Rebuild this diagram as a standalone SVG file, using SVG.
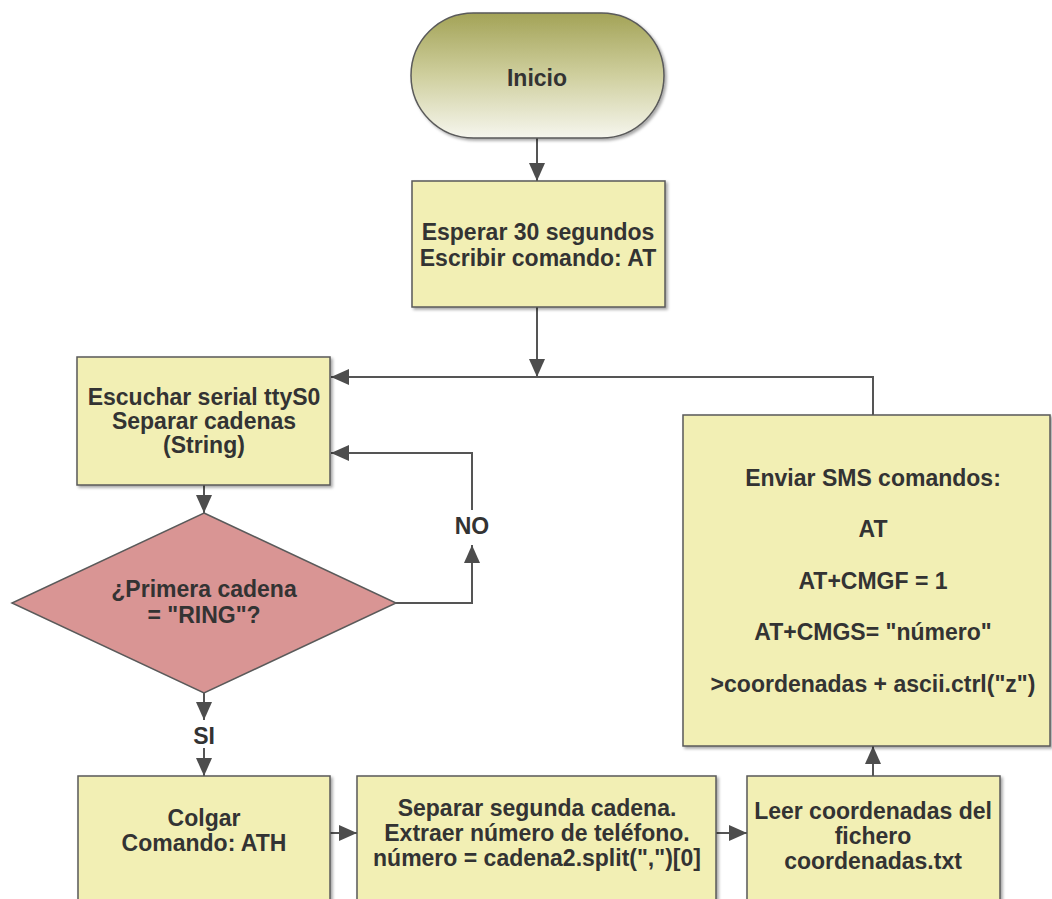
<svg xmlns="http://www.w3.org/2000/svg" width="1052" height="899" viewBox="0 0 1052 899">
  <defs>
    <linearGradient id="startFill" x1="0" y1="0" x2="0" y2="1">
      <stop offset="0" stop-color="#a3a357"/>
      <stop offset="0.5" stop-color="#cfcf9e"/>
      <stop offset="1" stop-color="#f6f6ee"/>
    </linearGradient>
    <filter id="shadow" x="-5%" y="-5%" width="115%" height="115%">
      <feDropShadow dx="2" dy="2" stdDeviation="1.5" flood-color="#000" flood-opacity="0.35"/>
    </filter>
    <marker id="arrow" viewBox="0 0 18 16" refX="18" refY="8" markerWidth="18" markerHeight="16" markerUnits="userSpaceOnUse" orient="auto">
      <path d="M0,0 L18,8 L0,16 Z" fill="#4d4d4d"/>
    </marker>
  </defs>
  <style>
    .box { fill: #f2efb4; stroke: #5a5a5a; stroke-width: 1.5; filter: url(#shadow); }
    .decision { fill: #d99594; stroke: #5a5a5a; stroke-width: 1.5; }
    .terminal { fill: url(#startFill); stroke: #5a5a5a; stroke-width: 1.5; filter: url(#shadow); }
    .conn { fill: none; stroke: #555; stroke-width: 2; }
    .arr { marker-end: url(#arrow); }
    text { font-family: "Liberation Sans", Arial, sans-serif; font-weight: bold; font-size: 23px; fill: #333; text-anchor: middle; }
  </style>
  <rect width="1052" height="899" fill="#fff"/>

  <!-- connectors -->
  <g id="connectors">
    <path class="conn arr" d="M537,138 V181"/>
    <path class="conn arr" d="M537,307 V377"/>
    <path class="conn arr" d="M873,415 V377 H331"/>
    <path class="conn arr" d="M204,485 V513"/>
    <path class="conn arr" d="M396,603 H472 V545"/>
    <path class="conn arr" d="M472,510 V453 H331"/>
    <path class="conn arr" d="M204,693 V720"/>
    <path class="conn arr" d="M204,748 V776"/>
    <path class="conn arr" d="M330,833 H357"/>
    <path class="conn arr" d="M716,833 H747"/>
    <path class="conn arr" d="M873,776 V746"/>
  </g>

  <g id="start">
    <rect class="terminal" x="411" y="13" width="253" height="125" rx="62.5" ry="62.5"/>
    <text x="537" y="86">Inicio</text>
  </g>

  <g id="wait">
    <rect class="box" x="412" y="181" width="253" height="126"/>
    <text x="538" y="240">Esperar 30 segundos</text>
    <text x="538" y="266">Escribir comando: AT</text>
  </g>

  <g id="listen">
    <rect class="box" x="77" y="357" width="253" height="128"/>
    <text x="204" y="405">Escuchar serial ttyS0</text>
    <text x="204" y="429">Separar cadenas</text>
    <text x="204" y="453">(String)</text>
  </g>

  <g id="decision">
    <polygon class="decision" points="204,513 396,603 204,693 12,603"/>
    <text x="204" y="597">¿Primera cadena</text>
    <text x="204" y="623">= "RING"?</text>
  </g>

  <g id="label-no">
    <text x="472" y="534">NO</text>
  </g>

  <g id="label-si">
    <text x="204" y="744">SI</text>
  </g>

  <g id="hangup">
    <rect class="box" x="78" y="776" width="252" height="140"/>
    <text x="204" y="826">Colgar</text>
    <text x="204" y="851">Comando: ATH</text>
  </g>

  <g id="parse">
    <rect class="box" x="357" y="776" width="359" height="140"/>
    <text x="537" y="816">Separar segunda cadena.</text>
    <text x="537" y="841">Extraer número de teléfono.</text>
    <text x="537" y="866">número = cadena2.split(",")[0]</text>
  </g>

  <g id="read">
    <rect class="box" x="747" y="776" width="253" height="140"/>
    <text x="873" y="819">Leer coordenadas del</text>
    <text x="873" y="844">fichero</text>
    <text x="873" y="869">coordenadas.txt</text>
  </g>

  <g id="send">
    <rect class="box" x="683" y="415" width="367" height="331"/>
    <text x="873" y="486">Enviar SMS comandos:</text>
    <text x="873" y="537">AT</text>
    <text x="873" y="589">AT+CMGF = 1</text>
    <text x="873" y="640">AT+CMGS= "número"</text>
    <text x="873" y="692">&gt;coordenadas + ascii.ctrl("z")</text>
  </g>
</svg>
